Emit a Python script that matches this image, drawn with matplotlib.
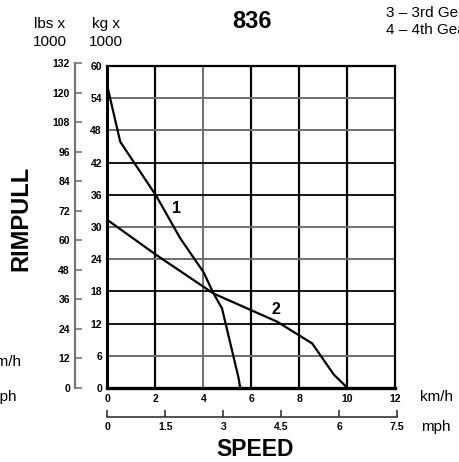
import matplotlib
matplotlib.use("Agg")
import matplotlib.pyplot as plt
import numpy as np

# ---- data ----
gear1_kmh = [0.0, 0.53, 0.81, 2.03, 3.03, 4.0, 4.42, 4.77, 5.46, 5.53]
gear1_kg = [56.1, 45.9, 44.0, 35.8, 27.9, 21.6, 17.6, 14.85, 1.9, 0.0]
gear2_kmh = [0.0, 2.03, 4.42, 7.07, 8.53, 9.43, 10.0]
gear2_kg = [31.3, 24.8, 17.6, 12.35, 8.3, 2.5, 0.0]

kmh_ticks = [0, 2, 4, 6, 8, 10, 12]
kg_ticks = [0, 6, 12, 18, 24, 30, 36, 42, 48, 54, 60]
lbs_ticks = [0, 12, 24, 36, 48, 60, 72, 84, 96, 108, 120, 132]
mph_ticks = [0, 1.5, 3, 4.5, 6, 7.5]
mph_labels = ["0", "1.5", "3", "4.5", "6", "7.5"]
dark_x = [2, 6, 8, 10]
light_x = [4]
dark_y = [12, 18, 36, 42]
light_y = [6, 24, 30, 48, 54]

curve_labels = ["1", "2"]
label_pos = [(2.87, 33.5), (7.03, 14.6)]

W, H = 460, 462
FIG_DPI = 100
fig = plt.figure(figsize=(W / FIG_DPI, H / FIG_DPI), dpi=FIG_DPI)

SANS = ["Liberation Sans", "DejaVu Sans"]
NARROW = ["Liberation Sans Narrow", "Liberation Sans", "DejaVu Sans"]

def fx(px):
    return px / W

def fy(py):
    return 1 - py / H

# main axes
x0, x1, ytop, ybot = 107.5, 395.5, 66, 388
ax = fig.add_axes([fx(x0), fy(ybot), fx(x1) - fx(x0), fy(ytop) - fy(ybot)])
ax.set_xlim(0, 12)
ax.set_ylim(0, 60)
for v in dark_x:
    ax.axvline(v, color="black", lw=1.6, zorder=1)
for v in light_x:
    ax.axvline(v, color="#6e6e6e", lw=1.4, zorder=1)
for v in dark_y:
    ax.axhline(v, color="black", lw=1.3, zorder=1)
for v in light_y:
    ax.axhline(v, color="#6e6e6e", lw=1.4, zorder=1)

ax.plot(gear1_kmh, gear1_kg, color="black", lw=1.6, zorder=3, solid_joinstyle="round")
ax.plot(gear2_kmh, gear2_kg, color="black", lw=1.6, zorder=3, solid_joinstyle="round")
for lab, (lx, ly) in zip(curve_labels, label_pos):
    ax.text(lx, ly, lab, fontsize=11.5, fontweight="bold", family=SANS,
            ha="center", va="center")

for s in ax.spines.values():
    s.set_linewidth(1.6)
    s.set_color("black")
ax.spines["left"].set_linewidth(2.2)
ax.spines["bottom"].set_linewidth(2.4)
ax.set_xticks(kmh_ticks)
ax.set_yticks(kg_ticks)
ax.set_xticklabels([str(t) for t in kmh_ticks])
ax.set_yticklabels([str(t) for t in kg_ticks])
ax.tick_params(length=0, pad=4)
for t in ax.get_xticklabels() + ax.get_yticklabels():
    t.set_fontweight("bold")
    t.set_fontsize(7.5)
    t.set_family(NARROW)

# lbs axis
lx = 75.5
axl = fig.add_axes([fx(lx), fy(388), 0.0001, fy(63) - fy(388)])
axl.set_ylim(0, 132)
axl.set_xticks([])
for k in ["top", "right", "bottom"]:
    axl.spines[k].set_visible(False)
axl.spines["left"].set_color("#777777")
axl.spines["left"].set_linewidth(1.6)
axl.set_yticks(lbs_ticks)
axl.set_yticklabels([str(t) for t in lbs_ticks])
axl.tick_params(axis="y", direction="in", length=5, width=1.2, color="#777777", pad=4)
axl.patch.set_visible(False)
for t in axl.get_yticklabels():
    t.set_fontweight("bold")
    t.set_fontsize(7.5)
    t.set_family(NARROW)

# mph axis
my = 416.5
mph_right = x0 + (x1 - x0) * (7.5 * 1.609344) / 12
axm = fig.add_axes([fx(x0), fy(my), fx(mph_right) - fx(x0), 0.0001])
axm.set_xlim(0, 7.5)
axm.set_yticks([])
for k in ["top", "right", "left"]:
    axm.spines[k].set_visible(False)
axm.spines["bottom"].set_color("#333333")
axm.spines["bottom"].set_linewidth(1.2)
axm.set_xticks(mph_ticks)
axm.set_xticklabels(mph_labels)
axm.tick_params(axis="x", direction="in", length=5, width=1.2, color="#333333", pad=4)
axm.patch.set_visible(False)
for t in axm.get_xticklabels():
    t.set_fontweight("bold")
    t.set_fontsize(7.5)
    t.set_family(NARROW)

# texts
fig.text(fx(50), fy(24), "lbs x", fontsize=11, family=SANS, ha="center", va="center")
fig.text(fx(50), fy(42), "1000", fontsize=11, family=SANS, ha="center", va="center")
fig.text(fx(106), fy(24), "kg x", fontsize=11, family=SANS, ha="center", va="center")
fig.text(fx(106), fy(42), "1000", fontsize=11, family=SANS, ha="center", va="center")
fig.text(fx(252), fy(21), "836", fontsize=17, fontweight="bold", family=SANS,
         ha="center", va="center")
fig.text(fx(386), fy(13), "3 \u2013 3rd Gear", fontsize=11, family=SANS, ha="left", va="center")
fig.text(fx(386), fy(30), "4 \u2013 4th Gear", fontsize=11, family=SANS, ha="left", va="center")
fig.text(fx(21), fy(218), "RIMPULL", fontsize=17, fontweight="bold", family=SANS,
         rotation=90, ha="center", va="center")
fig.text(fx(255), fy(449), "SPEED", fontsize=16.5, fontweight="bold", family=SANS,
         ha="center", va="center")
fig.text(fx(420), fy(397), "km/h", fontsize=11, family=SANS, ha="left", va="center")
fig.text(fx(421), fy(427), "mph", fontsize=11, family=SANS, ha="left", va="center")
fig.text(fx(21), fy(362), "km/h", fontsize=11, family=SANS, ha="right", va="center")
fig.text(fx(17), fy(397), "mph", fontsize=11, family=SANS, ha="right", va="center")

fig.savefig("out.png", dpi=FIG_DPI)
